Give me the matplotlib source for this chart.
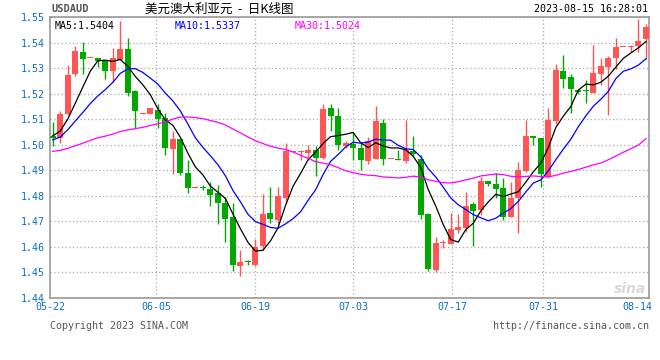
import numpy as np
import pandas as pd
import matplotlib
matplotlib.use('Agg')
from matplotlib import pyplot as plt

# daily candles 05-22 .. 08-15
opens = [1.5036, 1.5026, 1.5122, 1.5278, 1.5362, 1.5339, 1.5340, 1.5331, 1.5287, 1.5332,
         1.5375, 1.5210, 1.5121, 1.5119, 1.5137, 1.5106, 1.4984, 1.5023, 1.4890, 1.4831,
         1.4833, 1.4825, 1.4810, 1.4773, 1.4716, 1.4526, 1.4541, 1.4528, 1.4602, 1.4732,
         1.4706, 1.4793, 1.4972, 1.4972, 1.4968, 1.4979, 1.4950, 1.5145, 1.5111, 1.4994,
         1.5001, 1.4986, 1.4936, 1.4946, 1.5087, 1.4944, 1.4946, 1.4936, 1.4975, 1.4946,
         1.4728, 1.4511, 1.4614, 1.4612, 1.4667, 1.4673, 1.4767, 1.4743, 1.4859, 1.4847,
         1.4829, 1.4716, 1.4790, 1.4897, 1.5033, 1.5028, 1.4875, 1.5093, 1.5288, 1.5267,
         1.5215, 1.5213, 1.5204, 1.5278, 1.5306, 1.5340, 1.5381, 1.5382, 1.5388, 1.5412]
closes = [1.5028, 1.5122, 1.5274, 1.5365, 1.5336, 1.5341, 1.5326, 1.5287, 1.5340, 1.5375,
          1.5204, 1.5131, 1.5123, 1.5145, 1.5101, 1.4987, 1.5023, 1.4890, 1.4832, 1.4833,
          1.4831, 1.4803, 1.4771, 1.4711, 1.4528, 1.4541, 1.4539, 1.4599, 1.4728, 1.4710,
          1.4799, 1.4975, 1.4975, 1.4977, 1.4979, 1.4950, 1.5141, 1.5111, 1.4998, 1.5005,
          1.4986, 1.4940, 1.5015, 1.5092, 1.4944, 1.4946, 1.4940, 1.4979, 1.4965, 1.4725,
          1.4515, 1.4617, 1.4616, 1.4669, 1.4677, 1.4760, 1.4741, 1.4857, 1.4846, 1.4826,
          1.4716, 1.4790, 1.4901, 1.5036, 1.5028, 1.4884, 1.5098, 1.5293, 1.5258, 1.5217,
          1.5206, 1.5212, 1.5280, 1.5308, 1.5340, 1.5382, 1.5383, 1.5385, 1.5408, 1.5462]
highs = [1.5088, 1.5132, 1.5313, 1.5387, 1.5403, 1.5341, 1.5340, 1.5331, 1.5377, 1.5486,
         1.5418, 1.5215, 1.5123, 1.5145, 1.5161, 1.5124, 1.5054, 1.5023, 1.4940, 1.4833,
         1.4841, 1.4855, 1.4842, 1.4797, 1.4771, 1.4586, 1.4550, 1.4632, 1.4806, 1.4833,
         1.4833, 1.5007, 1.4975, 1.4978, 1.4997, 1.4994, 1.5158, 1.5161, 1.5145, 1.5014,
         1.5046, 1.5012, 1.5031, 1.5153, 1.5102, 1.4946, 1.4978, 1.5096, 1.5036, 1.4959,
         1.4734, 1.4638, 1.4627, 1.4732, 1.4728, 1.4814, 1.4777, 1.4874, 1.4859, 1.4890,
         1.4868, 1.4855, 1.4931, 1.5098, 1.5033, 1.5028, 1.5145, 1.5317, 1.5352, 1.5275,
         1.5215, 1.5254, 1.5391, 1.5339, 1.5349, 1.5418, 1.5383, 1.5392, 1.5492, 1.5473]
lows = [1.4994, 1.5007, 1.5118, 1.5270, 1.5278, 1.5339, 1.5304, 1.5256, 1.5245, 1.5332,
        1.5189, 1.5067, 1.5121, 1.5119, 1.5066, 1.4959, 1.4884, 1.4881, 1.4812, 1.4831,
        1.4823, 1.4760, 1.4690, 1.4621, 1.4504, 1.4487, 1.4528, 1.4527, 1.4586, 1.4695,
        1.4690, 1.4771, 1.4972, 1.4940, 1.4940, 1.4877, 1.4946, 1.5054, 1.4981, 1.4988,
        1.4940, 1.4902, 1.4925, 1.4946, 1.4920, 1.4944, 1.4940, 1.4927, 1.4955, 1.4710,
        1.4504, 1.4500, 1.4596, 1.4612, 1.4654, 1.4660, 1.4602, 1.4723, 1.4840, 1.4791,
        1.4706, 1.4716, 1.4654, 1.4893, 1.4998, 1.4836, 1.4868, 1.5080, 1.5221, 1.5124,
        1.5197, 1.5163, 1.5204, 1.5232, 1.5115, 1.5297, 1.5381, 1.5362, 1.5362, 1.5334]
# closes before 05-22, only needed so the moving averages start like the original
prior_closes = [1.5010, 1.5045, 1.5060, 1.5030, 1.5015, 1.5014, 1.5090, 1.5110, 1.5060, 1.5016,
                1.4990, 1.4960, 1.4930, 1.4900, 1.4760, 1.4700, 1.4660, 1.4820, 1.4905, 1.4960,
                1.5010, 1.4990, 1.5026, 1.5000, 1.4990, 1.5028, 1.5040, 1.5055, 1.5022]

date_labels = ['05-22', '06-05', '06-19', '07-03', '07-17', '07-31', '08-14']
date_pos = [-0.3, 13.8, 27.0, 40.0, 53.2, 65.3, 77.8]

RED = '#ff5555'
GREEN = '#00a800'
BLUE_TXT = '#0a6fc2'
MONO = 'DejaVu Sans Mono'

n = len(closes)
x = np.arange(n)
o = np.array(opens); c = np.array(closes)
h = np.array(highs); l = np.array(lows)

allc = pd.Series(prior_closes + closes)
ma5 = allc.rolling(5).mean().values[-n:]
ma10 = allc.rolling(10).mean().values[-n:]
ma30 = allc.rolling(30).mean().values[-n:]

fig = plt.figure(figsize=(6.6, 3.6), dpi=100)
ax = fig.add_axes([50/660, 1-298/360, 599/660, 281/360])

cols = [RED if cc >= oo else GREEN for oo, cc in zip(o, c)]
ax.vlines(x, l, h, colors=cols, lw=1, zorder=2)
body_bot = np.minimum(o, c)
body_h = np.maximum(np.abs(c-o), 0.0004)
ax.bar(x, body_h, bottom=body_bot, width=0.8, color=cols, linewidth=0, zorder=3)

ax.plot(x, ma5, color='black', lw=0.9, zorder=4)
ax.plot(x, ma10, color='#0000ff', lw=0.9, zorder=4)
ax.plot(x, ma30, color='#ff00ff', lw=0.9, zorder=4)

ax.set_xlim(-0.36, 79.4)
ax.set_ylim(1.44, 1.55)
yt = np.round(np.arange(1.44, 1.5501, 0.01), 2)
ax.set_yticks(yt)
ax.set_yticklabels([f'{v:.2f}' for v in yt], family=MONO, fontsize=7.2, color=BLUE_TXT)
ax.set_xticks(date_pos)
ax.set_xticklabels(date_labels, family=MONO, fontsize=7.2, color=BLUE_TXT)
ax.tick_params(length=0, pad=3)
ax.tick_params(axis='y', pad=4)
ax.grid(axis='y', color='#aaaaaa', linestyle=(0, (1, 2)), lw=0.9)
for p in date_pos[1:-1]:
    ax.axvline(p, color='#aaaaaa', linestyle=(0, (1, 2)), lw=0.9, zorder=1)
for s in ax.spines.values():
    s.set_color('#999999')
    s.set_linewidth(1.2)
ax.set_axisbelow(True)

# MA legend inside the plot
ax.text(0.008, 0.985, f'MA5:{ma5[-1]:.4f}', transform=ax.transAxes, ha='left', va='top',
        family=MONO, fontsize=7.2, color='black')
ax.text(0.208, 0.985, f'MA10:{ma10[-1]:.4f}', transform=ax.transAxes, ha='left', va='top',
        family=MONO, fontsize=7.2, color='#0000ff')
ax.text(0.409, 0.985, f'MA30:{ma30[-1]:.4f}', transform=ax.transAxes, ha='left', va='top',
        family=MONO, fontsize=7.2, color='#ff00ff')

# header / footer
fig.text(52/660, 1-9/360, 'USDAUD', ha='left', va='center', family=MONO, fontsize=7.5,
         color='#555555', fontweight='bold')
fig.text(219/660, 1-9/360, '美元澳大利亚元  -  日K线图', ha='center', va='center',
         family=['Noto Sans CJK SC', 'DejaVu Sans'], fontsize=9, color='black')
fig.text(648/660, 1-9/360, '2023-08-15 16:28:01', ha='right', va='center', family=MONO,
         fontsize=7.2, color='black')
fig.text(50/660, 1-326/360, 'Copyright 2023 SINA.COM', ha='left', va='center', family=MONO,
         fontsize=7.2, color='#555555')
fig.text(649/660, 1-326/360, 'http://finance.sina.com.cn', ha='right', va='center', family=MONO,
         fontsize=7.2, color='#555555')
fig.text(646/660, 1-289/360, 'sina', ha='right', va='center', fontsize=10, style='italic',
         fontweight='bold', color='#d8d8d8')

fig.savefig('out.png', dpi=100)
